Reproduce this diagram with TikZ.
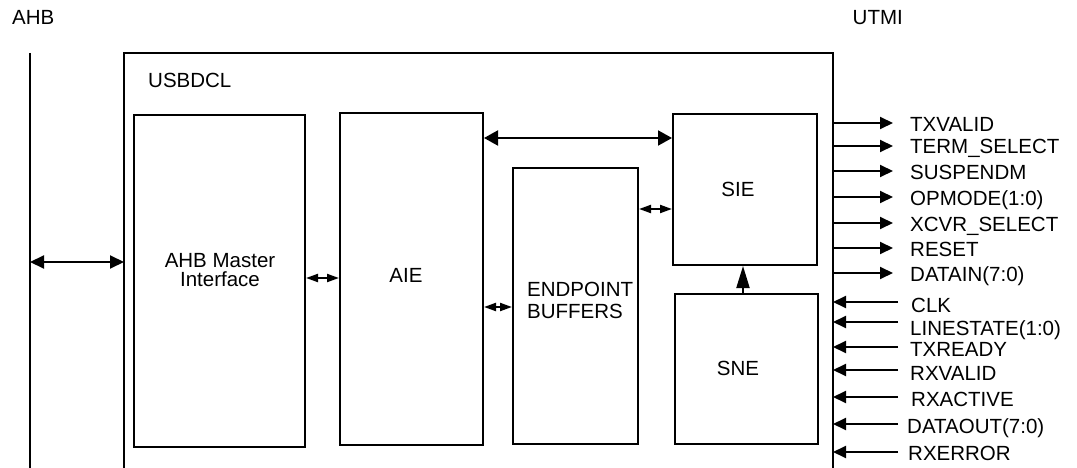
\documentclass[tikz,border=0pt]{standalone}
\usepackage{fontspec}
\setmainfont{Liberation Sans}
\usetikzlibrary{arrows.meta}
\begin{document}
\begin{tikzpicture}[x=1pt,y=-1pt,
  lw/.style={line width=2pt},
  box/.style={draw, line width=2pt, inner sep=0pt, anchor=north west},
  txt/.style={font=\fontsize{20.5}{22}\selectfont, inner sep=0pt},
  big/.style={line width=2pt, {Triangle[length=14pt,width=13pt]}-{Triangle[length=14pt,width=13pt]}},
  wide/.style={line width=2pt, {Triangle[length=14pt,width=15pt]}-{Triangle[length=14pt,width=15pt]}},
  small/.style={line width=2pt, {Triangle[length=12pt,width=8pt]}-{Triangle[length=12pt,width=8pt]}},
  uparr/.style={line width=2pt, -{Triangle[length=22pt,width=13pt]}},
  sigarr/.style={line width=2pt, -{Triangle[length=13pt,width=12pt]}},
]
\useasboundingbox (0,0) rectangle (1077,468);

% top labels
\node[txt, anchor=base west] (ahblbl) at (12,25) {AHB};
\node[txt, anchor=base east] (utmilbl) at (903,25) {UTMI};

% AHB bus line
\draw[lw] (30,53) -- (30,468);
\coordinate (busA) at (30,262);

% USBDCL outer box (open at bottom)
\draw[lw] (124,468) -- (124,53) -- (833,53) -- (833,468);
\coordinate (usbL) at (124,262);
\node[txt, anchor=base west] (usbdcl) at (148,88) {USBDCL};

% blocks
\node[box, minimum width=171pt, minimum height=332pt] (ahbm) at (133,114) {};
\node[box, minimum width=143pt, minimum height=332pt] (aie) at (339,112) {};
\node[box, minimum width=125pt, minimum height=276pt] (eb) at (512,167) {};
\node[box, minimum width=144pt, minimum height=151pt] (sie) at (672,113) {};
\node[box, minimum width=143pt, minimum height=150pt] (sne) at (674,293) {};

% block labels
\node[txt, align=center, font=\fontsize{20.5}{19}\selectfont] (ahbmt) at (220,270) {AHB Master\\Interface};
\node[txt] (aiet) at (406,275) {AIE};
\node[txt, anchor=west, align=left] (ebt) at (527,300) {ENDPOINT\\BUFFERS};
\node[txt] (siet) at (738,189) {SIE};
\node[txt] (snet) at (738,368) {SNE};

% internal connectors
\draw[big] (busA) -- (usbL);
\draw[small] (ahbm.east |- 0,278) -- (aie.west |- 0,278);
\draw[small] (aie.east |- 0,307) -- (eb.west |- 0,307);
\draw[wide] (aie.east |- 0,138) -- (sie.west |- 0,138);
\draw[small] (eb.east |- 0,209) -- (sie.west |- 0,209);
\draw[uparr] (sne.north -| 743,0) -- (sie.south -| 743,0);

% UTMI outputs
\foreach \nm/\tx/\ay/\by in {txvalid/TXVALID/123/131.7, termsel/TERM\_SELECT/146/154, suspendm/SUSPENDM/171/180, opmode/OPMODE(1:0)/197/205.7, xcvr/XCVR\_SELECT/223/231.7, reset/RESET/248/256.7, datain/DATAIN(7:0)/273/281.7}
{
  \node[txt, anchor=base west] (\nm) at (910,\by) {\tx};
  \coordinate (\nm-p) at (833,\ay);
  \coordinate (\nm-q) at (893,\ay);
  \draw[sigarr] (\nm-p) -- (\nm-q);
}

% UTMI inputs
\foreach \nm/\tx/\ay/\by/\xx in {clk/CLK/302/312.7/911, linestate/LINESTATE(1:0)/322/335/910, txready/TXREADY/347/356.7/910, rxvalid/RXVALID/370/380/910, rxactive/RXACTIVE/397/406.7/911, dataout/DATAOUT(7:0)/424/433/907, rxerror/RXERROR/452/460/908}
{
  \node[txt, anchor=base west] (\nm) at (\xx,\by) {\tx};
  \coordinate (\nm-p) at (833,\ay);
  \coordinate (\nm-q) at (898,\ay);
  \draw[sigarr] (\nm-q) -- (\nm-p);
}
\end{tikzpicture}
\end{document}
